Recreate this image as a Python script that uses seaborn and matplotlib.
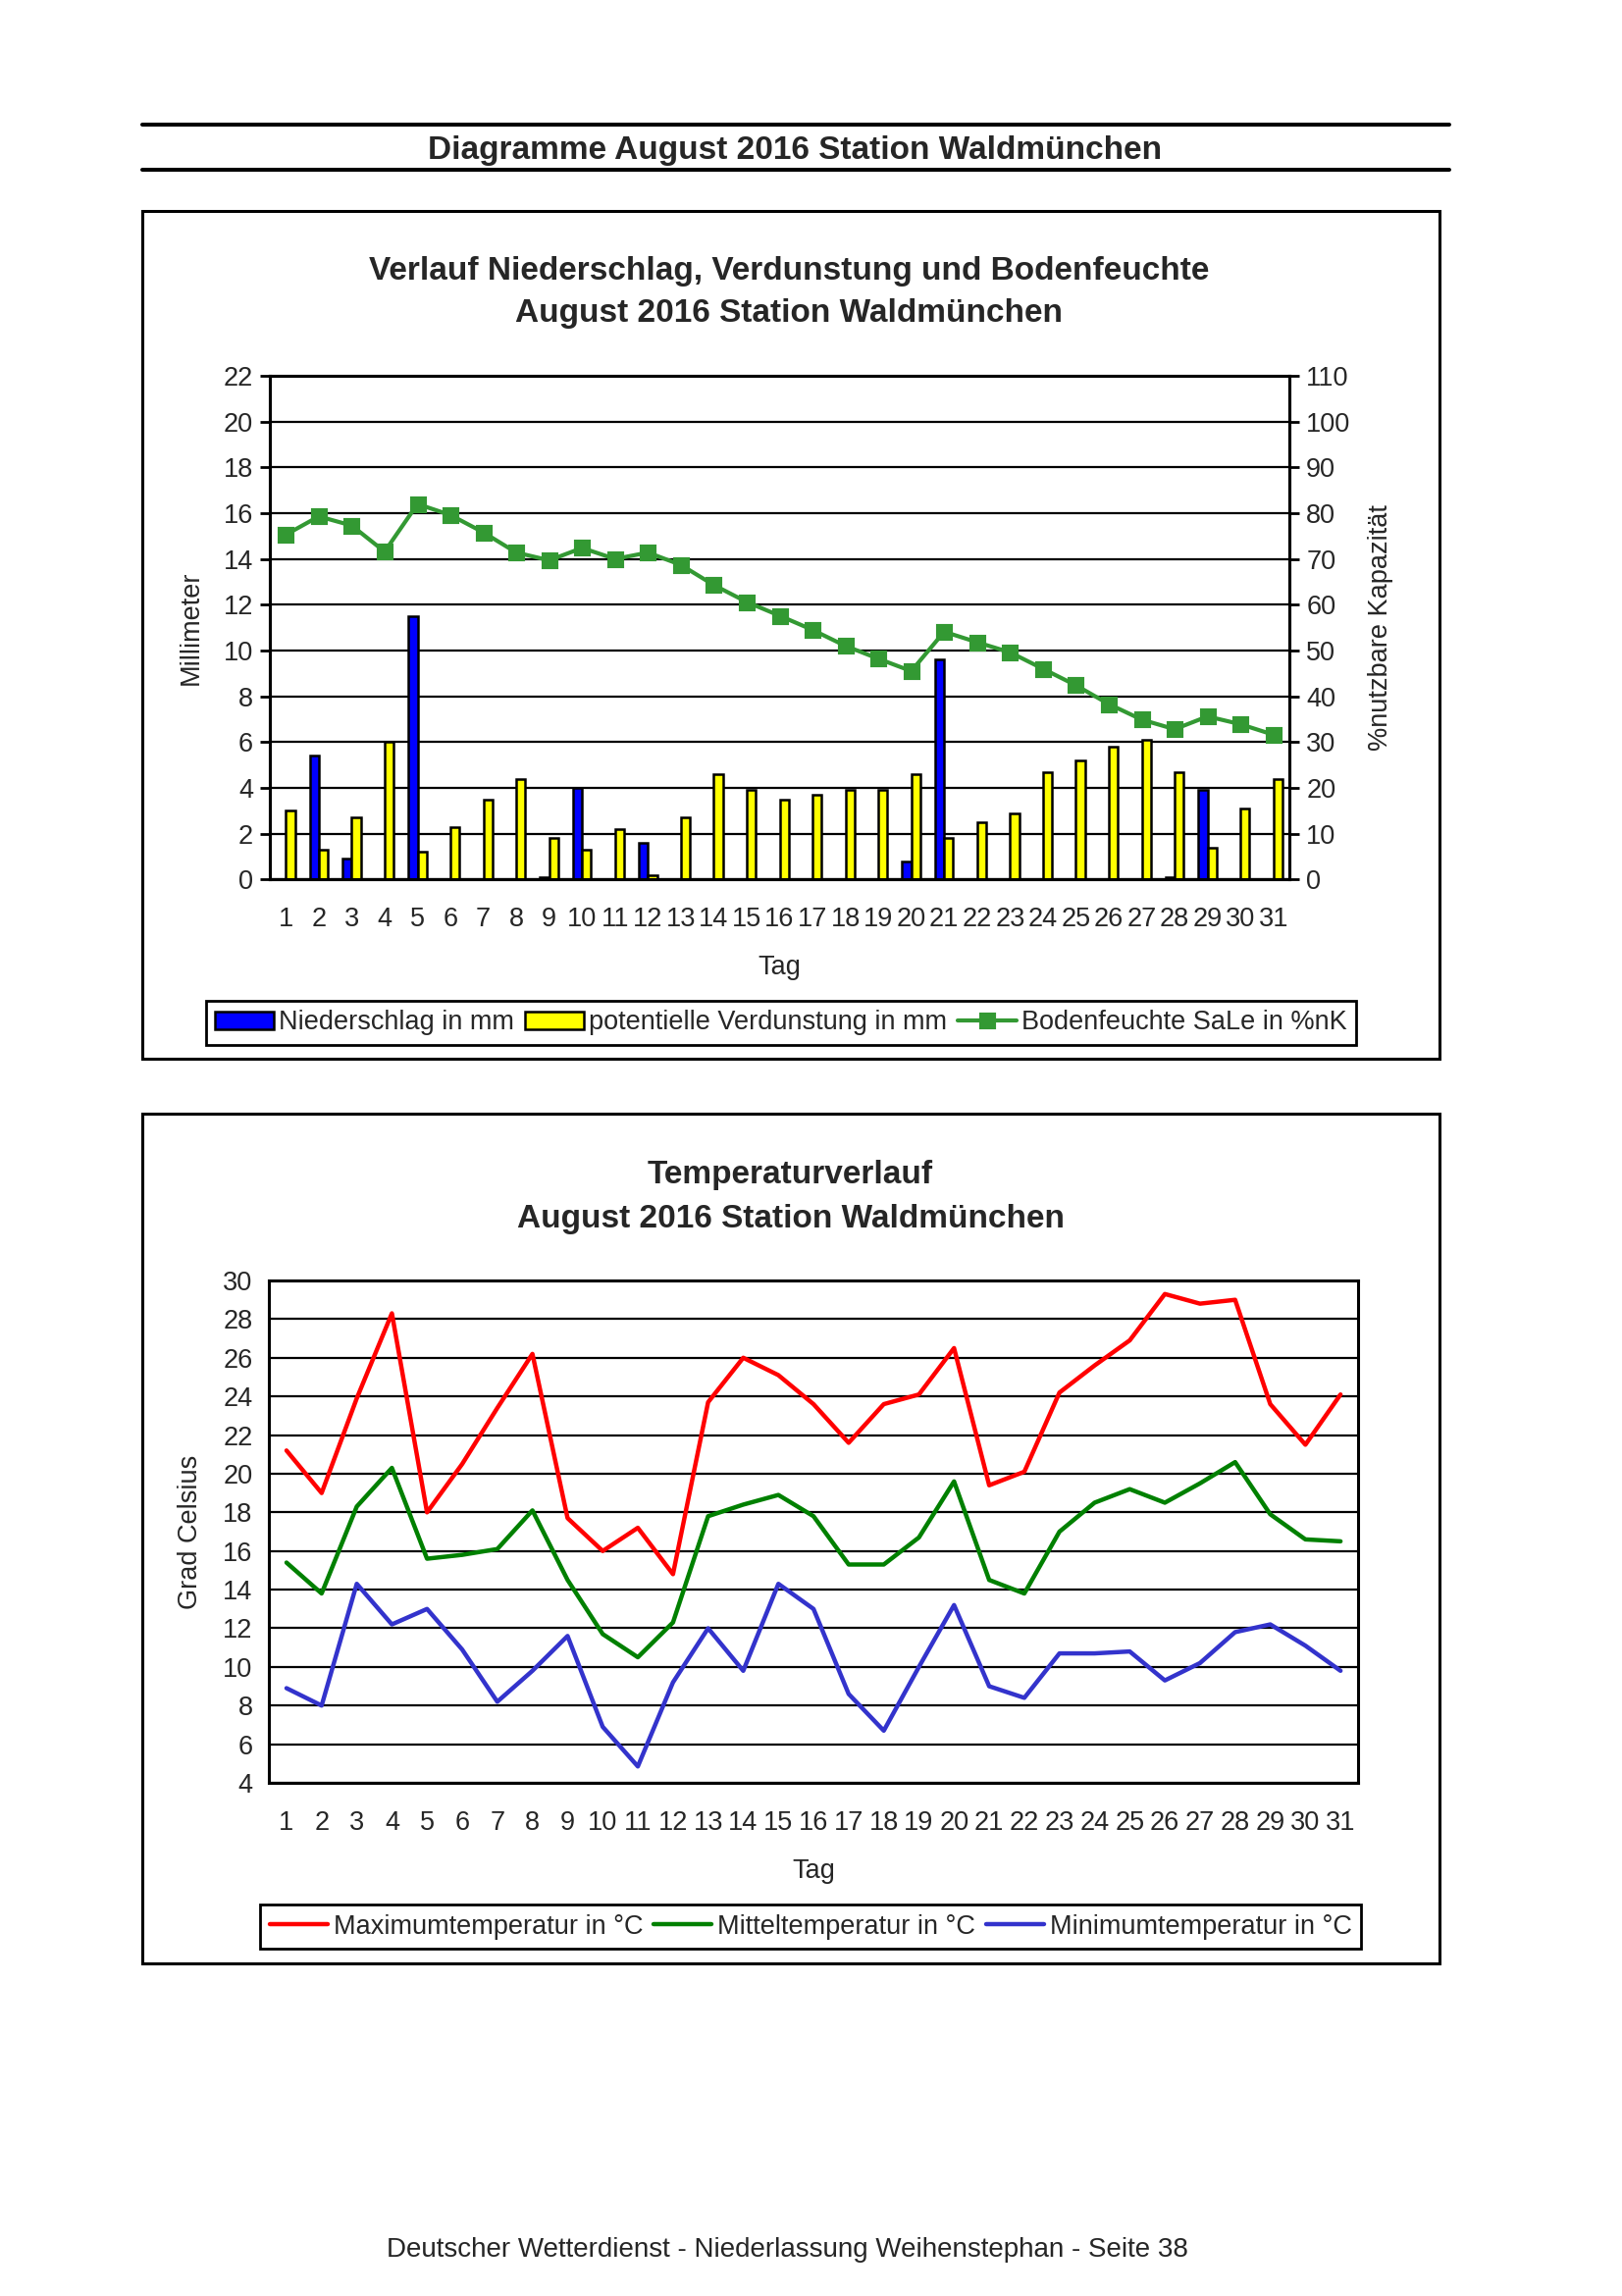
import numpy as np
import pandas as pd
import seaborn as sns
import matplotlib.pyplot as plt
from matplotlib.patches import Rectangle
from matplotlib.lines import Line2D
from matplotlib.ticker import FixedLocator

# Tageswerte August 2016, Station Waldmünchen
days = list(range(1, 32))
niederschlag = [0, 5.4, 0.9, 0, 11.5, 0, 0, 0, 0.1, 4.0, 0, 1.6, 0, 0, 0, 0,
                0, 0, 0, 0.8, 9.6, 0, 0, 0, 0, 0, 0, 0.1, 3.9, 0, 0]
verdunstung = [3.0, 1.3, 2.7, 6.0, 1.2, 2.3, 3.5, 4.4, 1.8, 1.3, 2.2, 0.2, 2.7, 4.6, 3.9, 3.5,
               3.7, 3.9, 3.9, 4.6, 1.8, 2.5, 2.9, 4.7, 5.2, 5.8, 6.1, 4.7, 1.4, 3.1, 4.4]
bodenfeuchte = [75.3, 79.3, 77.3, 71.6, 82.0, 79.6, 75.8, 71.4, 69.7, 72.4, 70.0, 71.4, 68.7, 64.3, 60.6, 57.6,
                54.5, 51.0, 48.2, 45.5, 54.1, 51.8, 49.6, 46.0, 42.4, 38.3, 34.9, 32.8, 35.6, 33.9, 31.6]
tmax = [21.2, 19.0, 23.9, 28.3, 18.0, 20.5, 23.4, 26.2, 17.7, 16.0, 17.2, 14.8, 23.7, 26.0, 25.1, 23.6,
        21.6, 23.6, 24.1, 26.5, 19.4, 20.1, 24.2, 25.6, 26.9, 29.3, 28.8, 29.0, 23.6, 21.5, 24.1]
tmit = [15.4, 13.8, 18.3, 20.3, 15.6, 15.8, 16.1, 18.1, 14.5, 11.7, 10.5, 12.3, 17.8, 18.4, 18.9, 17.8,
        15.3, 15.3, 16.7, 19.6, 14.5, 13.8, 17.0, 18.5, 19.2, 18.5, 19.5, 20.6, 17.9, 16.6, 16.5]
tmin = [8.9, 8.0, 14.3, 12.2, 13.0, 10.9, 8.2, 9.8, 11.6, 6.9, 4.85, 9.2, 12.0, 9.8, 14.3, 13.0,
        8.6, 6.7, 10.0, 13.2, 9.0, 8.4, 10.7, 10.7, 10.8, 9.3, 10.2, 11.8, 12.2, 11.1, 9.8]

bar_names = ["Niederschlag in mm", "potentielle Verdunstung in mm"]
soil_name = "Bodenfeuchte SaLe in %nK"
temp_names = ["Maximumtemperatur in °C", "Mitteltemperatur in °C", "Minimumtemperatur in °C"]

sns.set_style("white")
plt.rcParams["font.family"] = ["Liberation Sans", "DejaVu Sans"]
FS = 19.5
TFS = 24

fig = plt.figure(figsize=(16.53, 23.40), dpi=100)

# Seitenkopf
fig.add_artist(Line2D([0.0875, 0.8935], [0.9458, 0.9458], color="black", lw=2.9))
fig.add_artist(Line2D([0.0875, 0.8935], [0.9261, 0.9261], color="black", lw=2.9))
fig.text(0.490, 0.9344, "Diagramme August 2016 Station Waldmünchen", ha="center", va="center",
         fontsize=TFS, fontweight="bold")
fig.text(0.4856, 0.0202, "Deutscher Wetterdienst - Niederlassung Weihenstephan - Seite 38",
         ha="center", va="center", fontsize=20)

# Rahmen
for y0, h in [(0.5391, 0.3692), (0.1450, 0.3698)]:
    fig.add_artist(Rectangle((0.0875, y0), 0.7997, h, transform=fig.transFigure,
                             fill=False, edgecolor="black", lw=2.2))


def style_axis(ax, ymin, ymax, ystep, xlo, xhi):
    ax.set_ylim(ymin, ymax)
    ax.set_yticks(np.arange(ymin, ymax + ystep / 2, ystep))
    ax.set_xlim(xlo, xhi)
    ax.xaxis.set_major_locator(FixedLocator(np.arange(xlo + 0.5, xhi)))
    ax.set_xticklabels([str(d) for d in days])
    ax.xaxis.set_minor_locator(FixedLocator(np.arange(xlo, xhi + 0.5)))
    ax.tick_params(axis="x", which="major", length=0, labelsize=FS, pad=20)
    ax.tick_params(axis="x", which="minor", length=7, width=2, direction="out", color="black")
    ax.tick_params(axis="y", length=7, width=2, direction="out", labelsize=FS, pad=5, color="black")
    ax.yaxis.grid(True, color="black", lw=1.6)
    ax.set_axisbelow(True)
    for sp in ax.spines.values():
        sp.set_color("black")
        sp.set_linewidth(2.2)


# Diagramm 1: Niederschlag, Verdunstung, Bodenfeuchte
ax1 = fig.add_axes([0.1661, 0.6170, 0.6291, 0.2193])
df1 = pd.DataFrame({
    "Tag": days * 2,
    "Wert": niederschlag + verdunstung,
    "Reihe": [bar_names[0]] * len(days) + [bar_names[1]] * len(days),
})
sns.barplot(data=df1, x="Tag", y="Wert", hue="Reihe", hue_order=bar_names,
            palette=["#0000FF", "#FFFF00"], saturation=1, width=0.55,
            edgecolor="black", linewidth=1.8, legend=False, ax=ax1)
style_axis(ax1, 0, 22, 2, -0.5, 30.5)
ax1.set_xlabel("Tag", fontsize=FS)
ax1.set_ylabel("Millimeter", fontsize=FS)
ax1.xaxis.set_label_coords(0.5, -0.175)
ax1.xaxis.label.set_va("center")
ax1.yaxis.set_label_coords(-0.077, 0.5)
ax1.yaxis.label.set_va("center")

ax1b = ax1.twinx()
sns.pointplot(x=days, y=bodenfeuchte, ax=ax1b, color="#339933", markers="s",
              markersize=10, linewidth=3, errorbar=None)
ax1b.set_ylim(0, 110)
ax1b.set_yticks(np.arange(0, 111, 10))
ax1b.set_xlim(-0.5, 30.5)
ax1b.tick_params(axis="y", length=7, width=2, direction="out", labelsize=FS, pad=5, color="black")
ax1b.grid(False)
for sp in ax1b.spines.values():
    sp.set_color("black")
    sp.set_linewidth(2.2)
ax1b.set_ylabel("%nutzbare Kapazität", fontsize=FS)
ax1b.yaxis.set_label_coords(1.089, 0.5)
ax1b.yaxis.label.set_va("center")
ax1b.set_xlabel("")

fig.text(0.4866, 0.8818, "Verlauf Niederschlag, Verdunstung und Bodenfeuchte",
         ha="center", va="center", fontsize=TFS, fontweight="bold")
fig.text(0.4866, 0.8636, "August 2016 Station Waldmünchen",
         ha="center", va="center", fontsize=TFS, fontweight="bold")

h1 = [ax1.containers[0], ax1.containers[1], ax1b.lines[0]]
leg1 = fig.legend(h1, bar_names + [soil_name], loc="center", bbox_to_anchor=(0.4816, 0.5545),
                  ncol=3, fontsize=FS, frameon=True, fancybox=False, framealpha=1,
                  handlelength=2.2, handletextpad=0.2, columnspacing=0.4, borderpad=0.35)
leg1.get_frame().set_edgecolor("black")
leg1.get_frame().set_linewidth(2)

# Diagramm 2: Temperaturverlauf
ax2 = fig.add_axes([0.1658, 0.2235, 0.6715, 0.2188])
df2 = pd.DataFrame({
    "Tag": days * 3,
    "Grad": tmax + tmit + tmin,
    "Reihe": [temp_names[0]] * len(days) + [temp_names[1]] * len(days) + [temp_names[2]] * len(days),
})
sns.lineplot(data=df2, x="Tag", y="Grad", hue="Reihe", hue_order=temp_names,
             palette=["#FF0000", "#008000", "#3333CC"], linewidth=3.2, legend=False, ax=ax2)
style_axis(ax2, 4, 30, 2, 0.5, 31.5)
ax2.set_xlabel("Tag", fontsize=FS)
ax2.set_ylabel("Grad Celsius", fontsize=FS)
ax2.xaxis.set_label_coords(0.5, -0.176)
ax2.xaxis.label.set_va("center")
ax2.yaxis.set_label_coords(-0.072, 0.5)
ax2.yaxis.label.set_va("center")

fig.text(0.4873, 0.4882, "Temperaturverlauf", ha="center", va="center", fontsize=TFS, fontweight="bold")
fig.text(0.4873, 0.4692, "August 2016 Station Waldmünchen", ha="center", va="center",
         fontsize=TFS, fontweight="bold")

leg2 = fig.legend(ax2.lines[:3], temp_names, loc="center", bbox_to_anchor=(0.4997, 0.1607),
                  ncol=3, fontsize=FS, frameon=True, fancybox=False, framealpha=1,
                  handlelength=2.2, handletextpad=0.2, columnspacing=0.4, borderpad=0.35)
leg2.get_frame().set_edgecolor("black")
leg2.get_frame().set_linewidth(2)

fig.savefig("out.png", dpi=100, facecolor="white")
